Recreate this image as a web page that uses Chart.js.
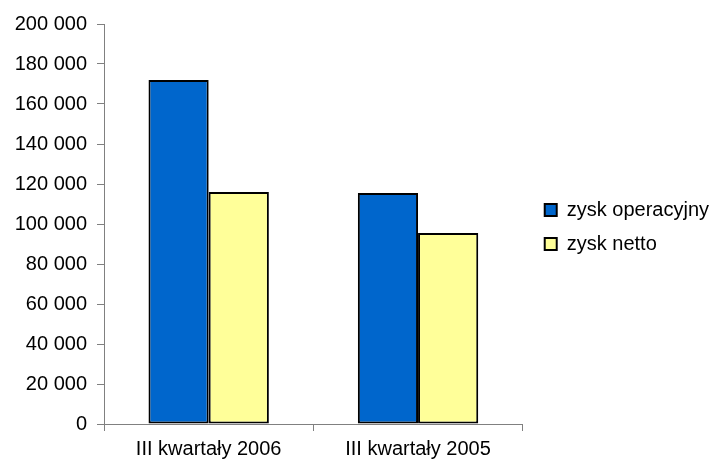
<!DOCTYPE html>
<html>
<head>
<meta charset="utf-8">
<script src="https://cdn.jsdelivr.net/npm/chart.js@4"></script>
<style>
  html, body { margin: 0; padding: 0; background: #fff; }
  #wrap { width: 715px; height: 462px; }
</style>
</head>
<body>
<div id="wrap"><canvas id="c" width="715" height="462"></canvas></div>
<script>
// ---------- Data ----------
const categories = ['III kwartały 2006', 'III kwartały 2005'];
const zyskOperacyjny = [172000, 115500];
const zyskNetto = [116000, 95500];
const seriesNames = ['zysk operacyjny', 'zysk netto'];

const fmt = v => String(v).replace(/\B(?=(\d{3})+(?!\d))/g, ' ');

Chart.defaults.font.family = '"Liberation Sans", Arial, sans-serif';
Chart.defaults.font.size = 20;
Chart.defaults.color = '#000';

// nudge the legend right/up, like in the original
const legendShift = {
    id: 'legendShift',
    afterLayout(chart) {
        chart.legend.left += 8;
        chart.legend.right += 8;
        chart.legend.top -= 16;
        chart.legend.bottom -= 16;
    }
};

new Chart(document.getElementById('c'), {
    type: 'bar',
    data: {
        labels: categories,
        datasets: [
            {
                label: seriesNames[0],
                data: zyskOperacyjny,
                backgroundColor: '#0066CC',
                borderColor: '#000',
                borderWidth: 2,
                borderSkipped: false,
                categoryPercentage: 0.575,
                barPercentage: 1
            },
            {
                label: seriesNames[1],
                data: zyskNetto,
                backgroundColor: '#FFFF99',
                borderColor: '#000',
                borderWidth: 2,
                borderSkipped: false,
                categoryPercentage: 0.575,
                barPercentage: 1
            }
        ]
    },
    options: {
        responsive: false,
        animation: false,
        devicePixelRatio: 1,
        layout: { padding: { top: 24, right: 4, left: 0, bottom: 0 } },
        plugins: {
            legend: {
                position: 'right',
                maxWidth: 194,
                labels: {
                    boxWidth: 12,
                    boxHeight: 12,
                    padding: 14,
                    color: '#000',
                    font: { size: 20 }
                }
            },
            tooltip: { enabled: false }
        },
        scales: {
            x: {
                grid: { display: true, drawOnChartArea: false, drawTicks: true, tickLength: 7, color: '#808080', offset: true },
                border: { color: '#808080', width: 1 },
                ticks: { padding: 6, color: '#000' },
                afterFit: s => { s.height = 38; }
            },
            y: {
                min: 0,
                max: 200000,
                grid: { display: true, drawOnChartArea: false, drawTicks: true, tickLength: 7, color: '#808080' },
                border: { color: '#808080', width: 1 },
                ticks: { stepSize: 20000, padding: 10, color: '#000', callback: v => fmt(v) },
                afterFit: s => { s.width = 104; }
            }
        }
    },
    plugins: [legendShift]
});
</script>
</body>
</html>
